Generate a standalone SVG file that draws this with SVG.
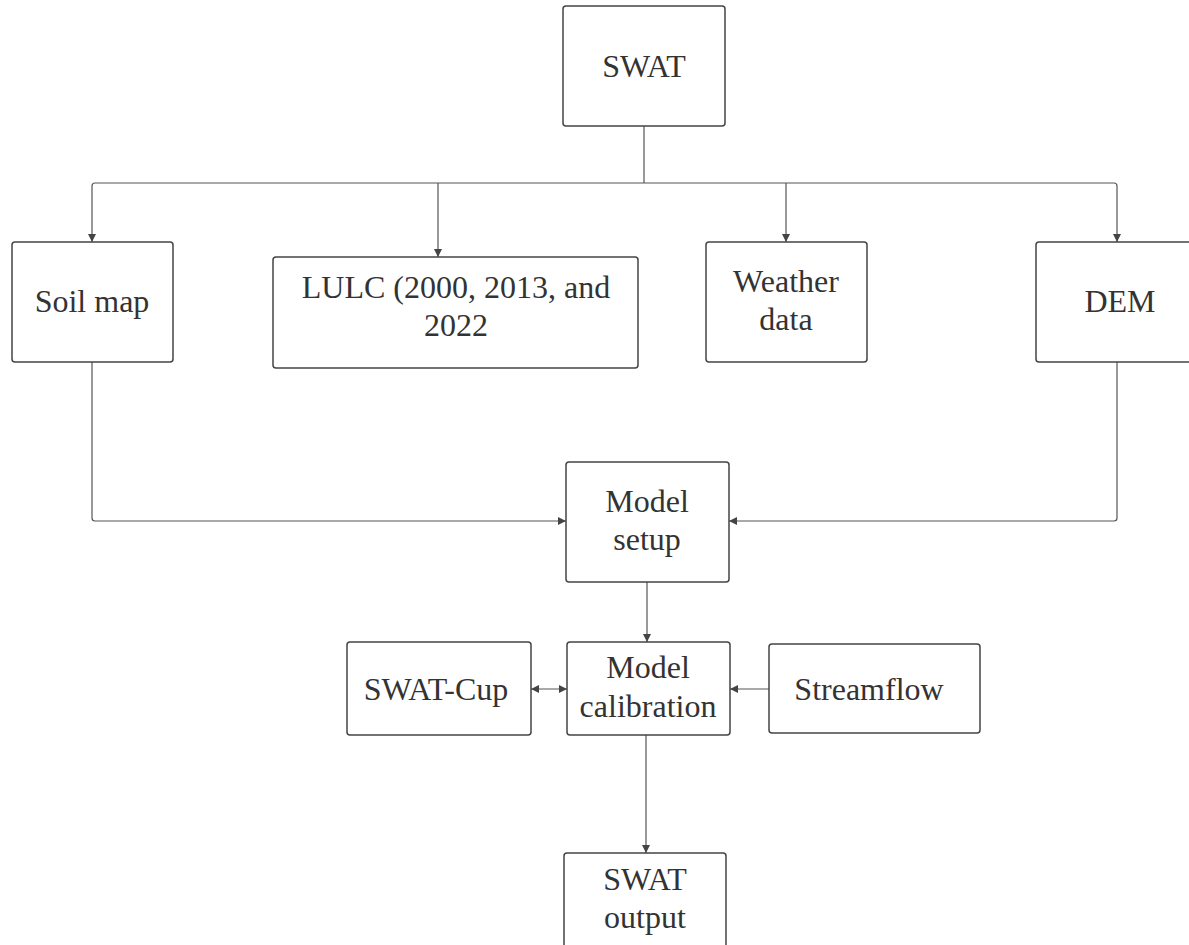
<svg xmlns="http://www.w3.org/2000/svg" width="1189" height="945" viewBox="0 0 1189 945">
<defs>
<marker id="ah" viewBox="0 0 10 10" refX="10" refY="5" markerWidth="8" markerHeight="8" markerUnits="userSpaceOnUse" orient="auto-start-reverse">
<path d="M0,0 L10,5 L0,10 z" fill="#444"/>
</marker>
<style>
.box{fill:#fff;stroke:#444;stroke-width:1.5}
.t{font-family:"Liberation Serif","DejaVu Serif",serif;font-size:32px;fill:#333;text-anchor:middle}
.c{fill:none;stroke:#555;stroke-width:1.2}
</style>
</defs>
<rect width="1189" height="945" fill="#fff"/>
<g id="connectors">
<path class="c" d="M644,126 V183"/>
<path class="c" d="M644,183 H95 Q92,183 92,186 V242" marker-end="url(#ah)"/>
<path class="c" d="M644,183 H1114 Q1117,183 1117,186 V242" marker-end="url(#ah)"/>
<path class="c" d="M438,183 V257" marker-end="url(#ah)"/>
<path class="c" d="M786,183 V242" marker-end="url(#ah)"/>
<path class="c" d="M92,362 V518 Q92,521 95,521 H566" marker-end="url(#ah)"/>
<path class="c" d="M1117,362 V518 Q1117,521 1114,521 H729" marker-end="url(#ah)"/>
<path class="c" d="M647,582 V642" marker-end="url(#ah)"/>
<path class="c" d="M531,689 H567" marker-start="url(#ah)" marker-end="url(#ah)"/>
<path class="c" d="M769,689 H730" marker-end="url(#ah)"/>
<path class="c" d="M646,735 V853" marker-end="url(#ah)"/>
</g>
<g id="swat"><rect class="box" x="563" y="6" width="162" height="120" rx="3"/><text class="t" x="644" y="77">SWAT</text></g>
<g id="soil"><rect class="box" x="12" y="242" width="161" height="120" rx="3"/><text class="t" x="92" y="312">Soil map</text></g>
<g id="lulc"><rect class="box" x="273" y="257" width="365" height="111" rx="3"/><text class="t" x="456" y="298">LULC (2000, 2013, and</text><text class="t" x="456" y="336">2022</text></g>
<g id="weather"><rect class="box" x="706" y="242" width="161" height="120" rx="3"/><text class="t" x="786" y="292">Weather</text><text class="t" x="786" y="330">data</text></g>
<g id="dem"><rect class="box" x="1036" y="242" width="161" height="120" rx="3"/><text class="t" x="1120" y="312">DEM</text></g>
<g id="setup"><rect class="box" x="566" y="462" width="163" height="120" rx="3"/><text class="t" x="647" y="512">Model</text><text class="t" x="647" y="550">setup</text></g>
<g id="calibration"><rect class="box" x="567" y="642" width="163" height="93" rx="3"/><text class="t" x="648" y="678">Model</text><text class="t" x="648" y="717">calibration</text></g>
<g id="swatcup"><rect class="box" x="347" y="642" width="184" height="93" rx="3"/><text class="t" x="436" y="700">SWAT-Cup</text></g>
<g id="streamflow"><rect class="box" x="769" y="644" width="211" height="89" rx="3"/><text class="t" x="869" y="700">Streamflow</text></g>
<g id="output"><rect class="box" x="564" y="853" width="162" height="120" rx="3"/><text class="t" x="645" y="890">SWAT</text><text class="t" x="645" y="928">output</text></g>
</svg>
